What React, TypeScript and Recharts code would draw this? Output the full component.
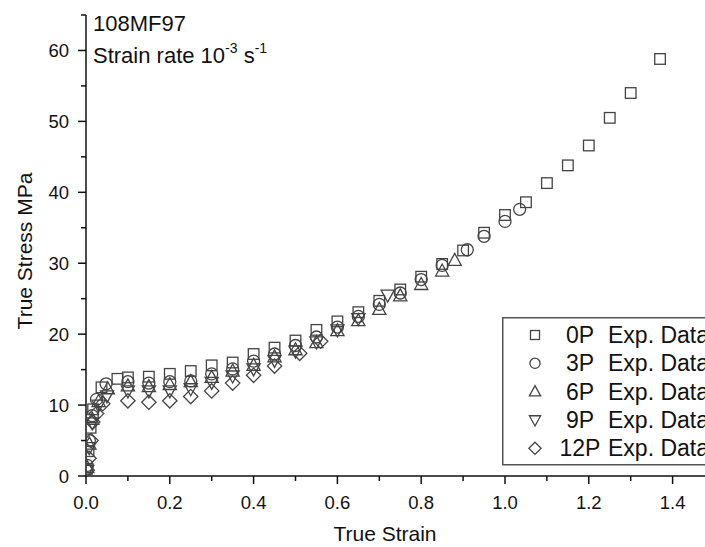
import React from 'react'
import { ScatterChart, Scatter, XAxis, YAxis, Legend } from 'recharts'

// tick values
const strainTicks = [0, 0.1, 0.2, 0.3, 0.4, 0.5, 0.6, 0.7, 0.8, 0.9, 1.0, 1.1, 1.2, 1.3, 1.4, 1.5]
const strainLabels = ['0.0', '0.2', '0.4', '0.6', '0.8', '1.0', '1.2', '1.4']
const stressTicks = [0, 5, 10, 15, 20, 25, 30, 35, 40, 45, 50, 55, 60, 65]
const stressLabels = [0, 10, 20, 30, 40, 50, 60]

const seriesLabels = ['0P', '3P', '6P', '9P', '12P']
const seriesShapes = ['square', 'circle', 'triangle', 'triangleDown', 'diamond']

// 0P
const strain0P = [0.002, 0.006, 0.011, 0.017, 0.037, 0.075, 0.1, 0.15, 0.2, 0.25, 0.3, 0.35, 0.4, 0.45, 0.5, 0.55, 0.6, 0.65, 0.7, 0.75, 0.8, 0.85, 0.9, 0.95, 1.0, 1.05, 1.1, 1.15, 1.2, 1.25, 1.3, 1.37]
const stress0P = [1.0, 3.5, 6.8, 9.4, 12.5, 13.7, 13.9, 14.0, 14.4, 14.8, 15.6, 16.0, 17.2, 18.1, 19.1, 20.6, 21.8, 23.1, 24.7, 26.3, 28.1, 29.9, 31.8, 34.3, 36.8, 38.6, 41.3, 43.8, 46.6, 50.5, 54.0, 58.8]
// 3P
const strain3P = [0.003, 0.008, 0.015, 0.025, 0.048, 0.1, 0.15, 0.2, 0.25, 0.3, 0.35, 0.4, 0.45, 0.5, 0.55, 0.6, 0.65, 0.7, 0.75, 0.8, 0.85, 0.91, 0.95, 1.0, 1.035]
const stress3P = [1.5, 5.0, 8.5, 10.8, 13.0, 13.3, 13.1, 13.3, 13.4, 14.4, 15.1, 16.2, 17.2, 18.4, 19.6, 21.0, 22.5, 24.2, 25.8, 27.7, 29.7, 31.9, 33.8, 35.9, 37.6]
// 6P
const strain6P = [0.003, 0.008, 0.015, 0.03, 0.052, 0.1, 0.15, 0.2, 0.25, 0.3, 0.35, 0.4, 0.45, 0.5, 0.55, 0.6, 0.65, 0.7, 0.75, 0.8, 0.85, 0.88]
const stress6P = [1.2, 4.5, 8.0, 10.5, 12.3, 12.7, 12.6, 12.9, 13.3, 13.9, 14.8, 15.6, 16.8, 17.8, 18.8, 20.5, 21.9, 23.5, 25.4, 27.0, 28.9, 30.4]
// 9P
const strain9P = [0.003, 0.008, 0.015, 0.03, 0.05, 0.1, 0.15, 0.2, 0.25, 0.3, 0.35, 0.4, 0.45, 0.5, 0.55, 0.6, 0.65, 0.72]
const stress9P = [0.8, 4.0, 7.5, 10.0, 11.3, 12.0, 12.0, 12.0, 12.3, 13.2, 14.1, 15.1, 16.3, 17.6, 18.9, 20.6, 22.2, 25.5]
// 12P
const strain12P = [0.003, 0.007, 0.012, 0.016, 0.025, 0.04, 0.1, 0.15, 0.2, 0.25, 0.3, 0.35, 0.4, 0.45, 0.51, 0.56]
const stress12P = [0.8, 2.5, 5.0, 7.6, 8.8, 10.2, 10.6, 10.4, 10.6, 11.2, 12.0, 13.1, 14.2, 15.5, 17.3, 19.0]

const zip = (xs: number[], ys: number[]) => xs.map((x, i) => ({ strain: x, stress: ys[i] }))
const seriesData = [
  zip(strain0P, stress0P),
  zip(strain3P, stress3P),
  zip(strain6P, stress6P),
  zip(strain9P, stress9P),
  zip(strain12P, stress12P),
]

const INK = '#111'
const MARK = '#444'
const FONT = '"Liberation Sans", Arial, sans-serif'

function Marker({ kind, cx, cy, s = 1 }: { kind: string; cx: number; cy: number; s?: number }) {
  const st = { fill: 'none', stroke: MARK, strokeWidth: 1.3 }
  if (kind === 'square') {
    const h = 5.3 * s
    return <rect x={cx - h} y={cy - h} width={2 * h} height={2 * h} {...st} />
  }
  if (kind === 'circle') return <circle cx={cx} cy={cy} r={6 * s} {...st} />
  if (kind === 'triangle')
    return <polygon points={`${cx},${cy - 7 * s} ${cx + 6.6 * s},${cy + 5 * s} ${cx - 6.6 * s},${cy + 5 * s}`} {...st} />
  if (kind === 'triangleDown')
    return <polygon points={`${cx},${cy + 7 * s} ${cx + 6.6 * s},${cy - 5 * s} ${cx - 6.6 * s},${cy - 5 * s}`} {...st} />
  return <polygon points={`${cx},${cy - 7.2 * s} ${cx + 7.2 * s},${cy} ${cx},${cy + 7.2 * s} ${cx - 7.2 * s},${cy}`} {...st} />
}

// custom ticks: major ticks labeled, minor ticks shorter
function XTick(props: any) {
  const { x, y, payload } = props
  const v = Math.round(payload.value * 10) / 10
  const label = strainLabels.find((l) => Math.abs(parseFloat(l) - v) < 1e-6)
  return (
    <g>
      <line x1={x} y1={y} x2={x} y2={y + (label ? 8 : 5)} stroke={INK} strokeWidth={1.5} />
      {label && (
        <text x={x} y={y + 33} textAnchor="middle" fontSize={18.5} fontFamily={FONT} fill={INK}>
          {label}
        </text>
      )}
    </g>
  )
}

function YTick(props: any) {
  const { x, y, payload } = props
  const major = stressLabels.includes(payload.value)
  return (
    <g>
      <line x1={x} y1={y} x2={x - (major ? 8 : 5)} y2={y} stroke={INK} strokeWidth={1.5} />
      {major && (
        <text x={x - 17} y={y + 6.5} textAnchor="end" fontSize={18.5} fontFamily={FONT} fill={INK}>
          {payload.value}
        </text>
      )}
    </g>
  )
}

function LegendBox() {
  const rows = [26, 54.3, 82.6, 111, 139.3]
  return (
    <svg width={240} height={150} style={{ display: 'block', overflow: 'visible' }}>
      <rect x={0.75} y={0.75} width={260} height={147} fill="#fff" stroke="#555" strokeWidth={1.5} />
      {seriesLabels.map((lab, i) => (
        <g key={lab}>
          <Marker kind={seriesShapes[i]} cx={33} cy={rows[i] - 8} s={0.85} />
          <text x={78} y={rows[i]} textAnchor="middle" fontSize={23} fontFamily={FONT} fill={INK}>
            {lab}
          </text>
          <text x={106} y={rows[i]} fontSize={23} fontFamily={FONT} fill={INK}>
            Exp. Data
          </text>
        </g>
      ))}
    </svg>
  )
}

export default function App() {
  return (
    <div style={{ position: 'fixed', left: 0, top: 0, width: 705, height: 547, overflow: 'hidden', background: '#fff' }}>
      <ScatterChart width={730} height={547} margin={{ top: 15, right: 15.5, bottom: 0, left: 0 }}>
        <XAxis
          type="number"
          dataKey="strain"
          domain={[0, 1.5]}
          ticks={strainTicks}
          interval={0}
          allowDataOverflow
          height={71}
          tickLine={false}
          tickSize={0}
          tickMargin={0}
          axisLine={{ stroke: INK, strokeWidth: 1.5 }}
          tick={<XTick />}
        />
        <YAxis
          type="number"
          dataKey="stress"
          domain={[0, 65]}
          ticks={stressTicks}
          interval={0}
          allowDataOverflow
          width={86}
          tickLine={false}
          tickSize={0}
          tickMargin={0}
          axisLine={{ stroke: INK, strokeWidth: 1.5 }}
          tick={<YTick />}
        />
        <Legend
          layout="horizontal"
          verticalAlign="middle"
          align="center"
          wrapperStyle={{ position: 'absolute', left: 502, top: 317, width: 240, height: 150 }}
          content={() => <LegendBox />}
        />
        {seriesData.map((d, i) => (
          <Scatter
            key={seriesLabels[i]}
            name={`${seriesLabels[i]} Exp. Data`}
            data={d}
            isAnimationActive={false}
            shape={(p: any) => <Marker kind={seriesShapes[i]} cx={p.cx} cy={p.cy} />}
          />
        ))}
      </ScatterChart>
      <svg width={705} height={547} style={{ position: 'absolute', left: 0, top: 0, pointerEvents: 'none' }}>
        <text x={93} y={31} fontSize={22} fontFamily={FONT} fill={INK}>108MF97</text>
        <text x={93} y={63} fontSize={22} fontFamily={FONT} fill={INK}>
          Strain rate 10
          <tspan fontSize={14} dy={-10}>-3</tspan>
          <tspan fontSize={22} dy={10}> s</tspan>
          <tspan fontSize={14} dy={-10}>-1</tspan>
        </text>
        <text x={385} y={541} textAnchor="middle" fontSize={21} fontFamily={FONT} fill={INK}>True Strain</text>
        <text transform="translate(32,251) rotate(-90)" textAnchor="middle" fontSize={21} fontFamily={FONT} fill={INK}>
          True Stress MPa
        </text>
      </svg>
    </div>
  )
}
